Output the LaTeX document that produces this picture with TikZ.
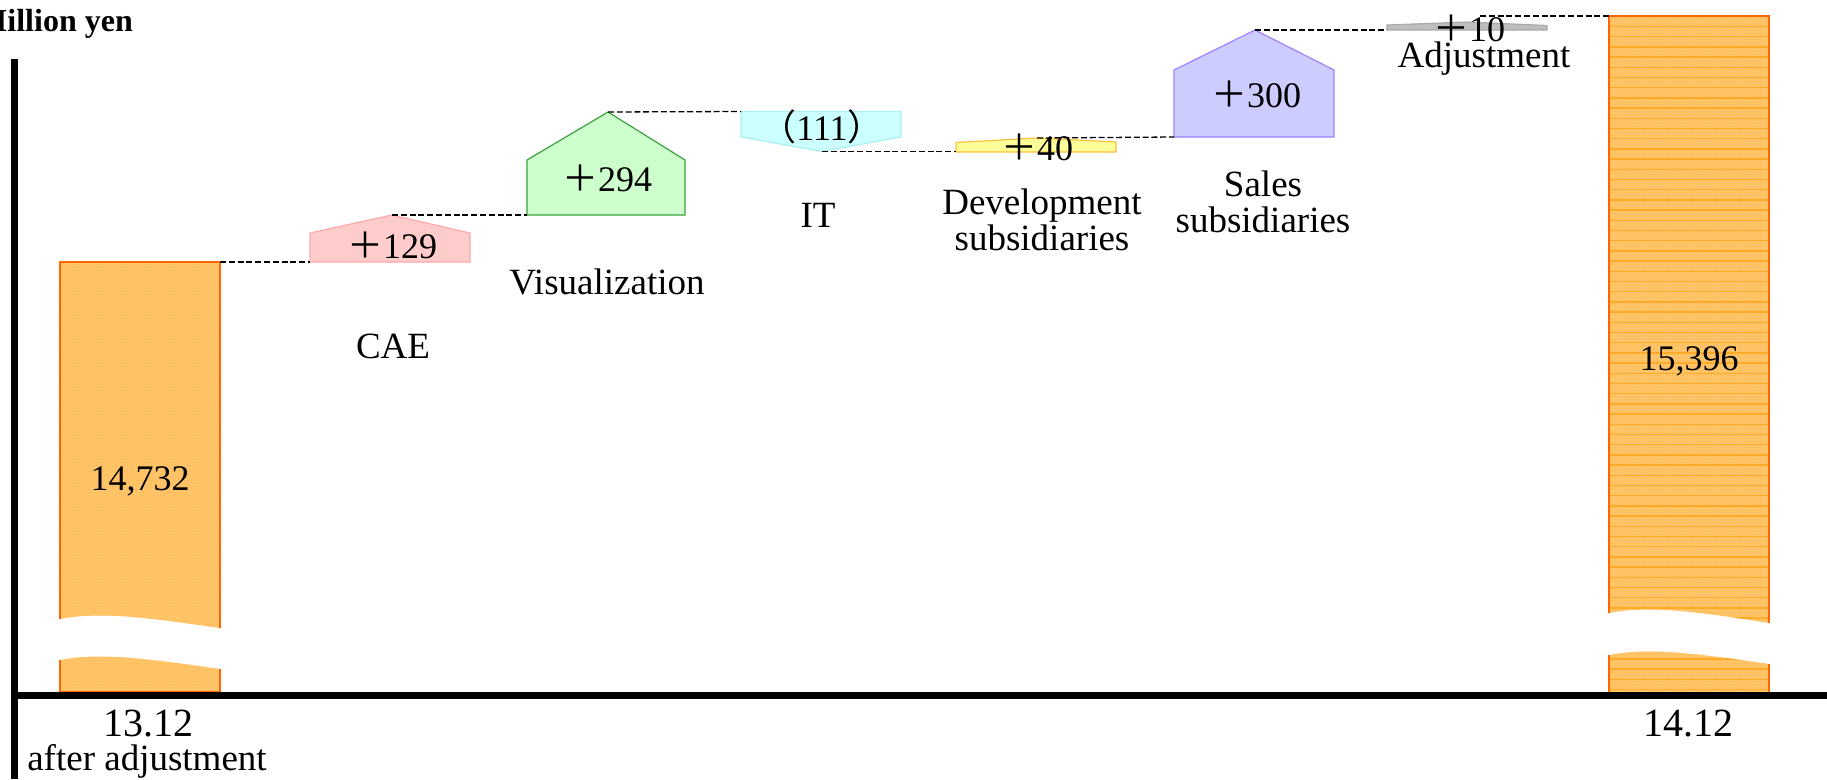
\documentclass[tikz,border=0pt]{standalone}
\usepackage{fontspec}
\setmainfont{Liberation Serif}
\newfontfamily\cjkfont{Noto Sans CJK JP}
\usetikzlibrary{patterns}

% full-width signs used in the step values
\newcommand\zplus{{\cjkfont ＋}}
\newcommand\zlp{{\cjkfont （}}
\newcommand\zrp{{\cjkfont ）}}

\definecolor{barfill}{RGB}{255,198,108}
\definecolor{bardot}{RGB}{255,178,70}
\definecolor{baredge}{RGB}{255,102,0}
\definecolor{barstripe}{RGB}{255,170,40}
\definecolor{caefill}{RGB}{255,204,204}
\definecolor{caeedge}{RGB}{255,170,170}
\definecolor{visfill}{RGB}{204,255,204}
\definecolor{visedge}{RGB}{60,160,60}
\definecolor{itfill}{RGB}{204,255,255}
\definecolor{itedge}{RGB}{170,240,240}
\definecolor{devfill}{RGB}{255,255,153}
\definecolor{devedge}{RGB}{255,190,60}
\definecolor{salesfill}{RGB}{204,204,255}
\definecolor{salesedge}{RGB}{160,130,255}
\definecolor{adjfill}{RGB}{190,190,190}
\definecolor{adjedge}{RGB}{170,170,170}

% outlines of the two broken total bars
\newcommand\leftupper{(60,619) -- (60,262) -- (220,262) -- (220,628) .. controls (150,618) and (100,611) .. (60,619) -- cycle}
\newcommand\leftlower{(60,660) .. controls (100,652) and (150,659) .. (220,669) -- (220,692) -- (60,692) -- cycle}
\newcommand\rightupper{(1609,613) -- (1609,16) -- (1769,16) -- (1769,623) .. controls (1700,612) and (1650,605) .. (1609,613) -- cycle}
\newcommand\rightlower{(1609,655) .. controls (1650,647) and (1700,654) .. (1769,664) -- (1769,693) -- (1609,693) -- cycle}

\begin{document}
\begin{tikzpicture}[x=1pt,y=-1pt,
  barbody/.style={fill=barfill,postaction={pattern=crosshatch dots,pattern color=bardot}},
  baredge/.style={draw=baredge,line width=2.2pt},
  link/.style={draw=black,line width=1.3pt,dash pattern=on 6pt off 2.8pt},
  axisline/.style={draw=black,line width=7.5pt},
  value/.style={font=\fontsize{36}{36}\selectfont,inner sep=0pt,anchor=base},
  catlabel/.style={font=\fontsize{37}{36}\selectfont,inner sep=0pt,anchor=base,align=center},
  datelabel/.style={font=\fontsize{40}{40}\selectfont,inner sep=0pt,anchor=base},
  stepshape/.style={line width=1.2pt}]
\useasboundingbox (0,0) rectangle (1827,779);

% ---- total bars ----
\path[barbody] \leftupper;
\path[barbody] \leftlower;
\path[barbody] \rightupper;
\path[barbody] \rightlower;
\begin{scope}
  \clip \rightupper \rightlower;
  \foreach \k in {0,...,66}
    \draw[barstripe,line width=1.3pt] (1609,26.5+10.2*\k) -- (1769,26.5+10.2*\k);
\end{scope}
\draw[baredge] (60,619) -- (60,262) -- (220,262) -- (220,628);
\draw[baredge] (60,660) -- (60,692) -- (220,692) -- (220,669);
\draw[baredge] (1609,613) -- (1609,16) -- (1769,16) -- (1769,623);
\draw[baredge] (1609,655) -- (1609,693) -- (1769,693) -- (1769,664);

% ---- step shapes ----
\filldraw[stepshape,fill=caefill,draw=caeedge]
  (310,262) -- (310,233) -- (392,215) -- (470,233) -- (470,262) -- cycle;
\filldraw[stepshape,fill=visfill,draw=visedge]
  (527,215) -- (527,160) -- (608,112) -- (685,160) -- (685,215) -- cycle;
\filldraw[stepshape,fill=itfill,draw=itedge]
  (741,111.5) -- (901,111.5) -- (901,137) -- (822,151.5) -- (741,137) -- cycle;
\filldraw[stepshape,fill=devfill,draw=devedge]
  (956,152) -- (956,142.5) -- (1037,138) -- (1116,142) -- (1116,152) -- cycle;
\filldraw[stepshape,fill=salesfill,draw=salesedge]
  (1174,137) -- (1174,70) -- (1255,30) -- (1334,70) -- (1334,137) -- cycle;
\filldraw[stepshape,fill=adjfill,draw=adjedge]
  (1387,30) -- (1387,25) -- (1467,22) -- (1547,25.5) -- (1547,30) -- cycle;

% ---- connection points ----
\coordinate (start-top) at (220,262);
\coordinate (cae-in) at (310,262);
\coordinate (cae-out) at (392,215);
\coordinate (vis-in) at (527,215);
\coordinate (vis-out) at (608,112);
\coordinate (it-in) at (741,111.5);
\coordinate (it-out) at (822,151.5);
\coordinate (dev-in) at (956,151.5);
\coordinate (dev-out) at (1037,138);
\coordinate (sales-in) at (1174,137);
\coordinate (sales-out) at (1255,30);
\coordinate (adj-in) at (1387,30);
\coordinate (adj-out) at (1480,16);
\coordinate (end-top) at (1609,16);

\draw[link] (start-top) -- (cae-in);
\draw[link] (cae-out) -- (vis-in);
\draw[link] (vis-out) -- (it-in);
\draw[link] (it-out) -- (dev-in);
\draw[link] (dev-out) -- (sales-in);
\draw[link] (sales-out) -- (adj-in);
\draw[link] (adj-out) -- (end-top);

% ---- axes ----
\draw[axisline] (14.5,59) -- (14.5,779);
\draw[axisline] (11,695.5) -- (1827,695.5);

% ---- values ----
\node[value] (v-start) at (140,490) {14,732};
\node[value] (v-end) at (1689,370) {15,396};
\node[value] (v-cae) at (392,258) {\zplus129};
\node[value] (v-vis) at (607,191) {\zplus294};
\node[value] (v-it) at (822,140) {\zlp111\zrp};
\node[value] (v-dev) at (1037,160) {\zplus40};
\node[value] (v-sales) at (1256,107) {\zplus300};
\node[value] (v-adj) at (1469,41) {\zplus10};

% ---- category labels (base = last line) ----
\node[catlabel] (c-cae) at (393,358) {CAE};
\node[catlabel] (c-vis) at (607,294) {Visualization};
\node[catlabel] (c-it) at (818,227) {IT};
\node[catlabel] (c-dev) at (1042,250) {Development\\subsidiaries};
\node[catlabel] (c-sales) at (1263,232) {Sales\\subsidiaries};
\node[catlabel] (c-adj) at (1484,67) {Adjustment};

% ---- period labels and unit ----
\node[datelabel] (d-start) at (148,736) {13.12};
\node[catlabel] (d-start-note) at (147,770) {after adjustment};
\node[datelabel] (d-end) at (1688,736) {14.12};
\node[font=\fontsize{32}{32}\selectfont\bfseries,inner sep=0pt,anchor=base east] (unit) at (133,31) {Million yen};
\end{tikzpicture}
\end{document}
